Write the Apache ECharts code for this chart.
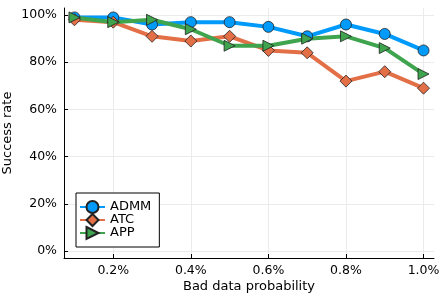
<!DOCTYPE html>
<html><head><meta charset="utf-8">
<script src="https://cdn.jsdelivr.net/npm/echarts@6/dist/echarts.min.js"></script>
<style>html,body{margin:0;padding:0;background:#fff}#c{width:443px;height:295px}</style>
</head><body><div id="c"></div>
<script>
const probs = [0.1, 0.2, 0.3, 0.4, 0.5, 0.6, 0.7, 0.8, 0.9, 1.0];
const admm = [99, 99, 96, 97, 97, 95, 91, 96, 92, 85];
const atc  = [98, 97, 91, 89, 91, 85, 84, 72, 76, 69];
const app  = [99, 97, 98, 94, 87, 87, 90, 91, 86, 75];
const xTicks = [0.2, 0.4, 0.6, 0.8, 1.0];
const yTicks = [0, 20, 40, 60, 80, 100];

const pair = (ys) => probs.map((x, i) => [x, ys[i]]);
const font = 'DejaVu Sans';
const mk = (name, ys, color, sym, size) => ({
  name, type: 'line', data: pair(ys), symbol: sym, symbolSize: size,
  lineStyle: {color, width: 4}, itemStyle: {color, borderColor: '#222', borderWidth: 0.8},
  emphasis: {disabled: true}, z: 3
});
const chart = echarts.init(document.getElementById('c'), null, {renderer: 'canvas'});
chart.setOption({
  animation: false,
  grid: {left: 64, right: 9, top: 8, bottom: 37, containLabel: false, outerBoundsMode: 'none'},
  xAxis: {
    type: 'value', min: 0.073, max: 1.027,
    name: 'Bad data probability', nameLocation: 'middle', nameGap: 22, nameMoveOverlap: false,
    nameTextStyle: {fontFamily: font, fontSize: 13, color: '#000'},
    axisLine: {show: true, onZero: false, lineStyle: {color: '#000', width: 1}},
    axisTick: {show: true, inside: true, length: 4, customValues: xTicks, lineStyle: {color: '#000'}},
    axisLabel: {customValues: xTicks, fontFamily: font, fontSize: 12.5, color: '#000', margin: 6,
      formatter: v => v.toFixed(1) + '%'},
    splitLine: {show: true, lineStyle: {color: '#ebebeb', width: 1}}
  },
  yAxis: {
    type: 'value', min: -3, max: 103,
    name: 'Success rate', nameLocation: 'middle', nameGap: 50, nameMoveOverlap: false,
    nameTextStyle: {fontFamily: font, fontSize: 13, color: '#000'},
    axisLine: {show: true, onZero: false, lineStyle: {color: '#000', width: 1}},
    axisTick: {show: true, inside: true, length: 4, customValues: yTicks, lineStyle: {color: '#000'}},
    axisLabel: {customValues: yTicks, fontFamily: font, fontSize: 12.5, color: '#000', margin: 7,
      formatter: v => Math.round(v) + '%'},
    splitLine: {show: true, lineStyle: {color: '#ebebeb', width: 1}}
  },
  legend: {
    left: 76, top: 193, orient: 'vertical', itemGap: -1, itemWidth: 25, itemHeight: 15,
    padding: [7, 8, 7, 3], borderColor: '#000', borderWidth: 1, backgroundColor: '#fff',
    textStyle: {fontFamily: font, fontSize: 13, color: '#000'},
    data: ['ADMM', 'ATC', 'APP']
  },
  series: [
    mk('ADMM', admm, '#009AFA', 'circle', 11),
    mk('ATC', atc, '#E36F47', 'diamond', 12),
    mk('APP', app, '#3EA44E', 'path://M0,0 L10,5 L0,10 Z', 11)
  ]
});
</script></body></html>
